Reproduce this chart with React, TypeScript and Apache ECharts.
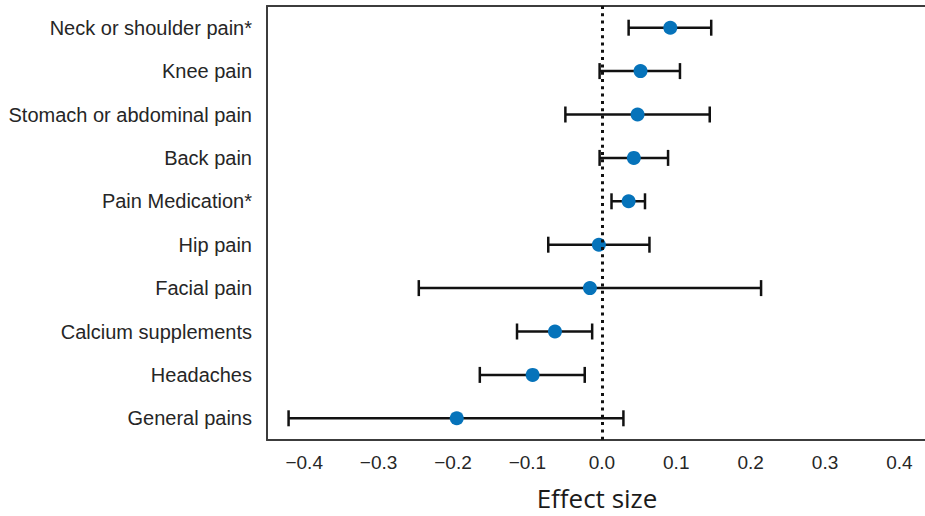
import React, { useEffect, useRef } from "react";
import * as echarts from "echarts";

// Outcome labels, top to bottom
const categories = [
  "Neck or shoulder pain*",
  "Knee pain",
  "Stomach or abdominal pain",
  "Back pain",
  "Pain Medication*",
  "Hip pain",
  "Facial pain",
  "Calcium supplements",
  "Headaches",
  "General pains",
];

// Point estimates and confidence bounds
const estimates = [0.092, 0.052, 0.048, 0.043, 0.036, -0.004, -0.016, -0.063, -0.093, -0.195];
const lowerBounds = [0.036, -0.003, -0.049, -0.003, 0.013, -0.072, -0.246, -0.114, -0.164, -0.421];
const upperBounds = [0.147, 0.105, 0.145, 0.089, 0.058, 0.064, 0.214, -0.013, -0.023, 0.029];

const tickValues = [-0.4, -0.3, -0.2, -0.1, 0, 0.1, 0.2, 0.3, 0.4];

const X_MIN = -0.45;
const X_MAX = 0.437;

const fmt = (v: number) => {
  const s = (Math.round(v * 10) / 10).toFixed(1);
  return s.replace("-", "\u2212");
};

export default function App() {
  const ref = useRef<HTMLDivElement>(null);

  useEffect(() => {
    if (!ref.current) return;
    const chart = echarts.init(ref.current, null, { renderer: "svg" });

    const errorData = categories.map((_, i) => [i, lowerBounds[i], upperBounds[i]]);
    const pointData = categories.map((_, i) => [estimates[i], i]);

    const frameLine = { show: true, lineStyle: { color: "#3c3c3c", width: 2 } };

    chart.setOption({
      animation: false,
      backgroundColor: "#ffffff",
      grid: {
        left: 267,
        right: -2,
        top: 6,
        bottom: 76,
        containLabel: false,
        outerBoundsMode: "none",
      },
      xAxis: [
        {
          type: "value",
          min: X_MIN,
          max: X_MAX,
          position: "bottom",
          axisLine: { ...frameLine, onZero: false },
          axisTick: { show: false },
          splitLine: { show: false },
          axisLabel: {
            customValues: tickValues,
            formatter: (v: number) => fmt(v),
            color: "#262626",
            fontSize: 19,
            fontFamily: "'Liberation Sans', Arial, sans-serif",
            margin: 13,
          },
          name: "Effect size",
          nameLocation: "middle",
          nameGap: 45,
          nameTextStyle: {
            color: "#1a1a1a",
            fontSize: 26,
            lineHeight: 26,
            fontFamily: "'Open Sans', 'Noto Sans', sans-serif",
          },
        },
        {
          type: "value",
          min: X_MIN,
          max: X_MAX,
          position: "top",
          axisLine: { ...frameLine, onZero: false },
          axisTick: { show: false },
          axisLabel: { show: false },
          splitLine: { show: false },
        },
      ],
      yAxis: {
        type: "category",
        data: categories,
        inverse: true,
        boundaryGap: true,
        axisLine: { ...frameLine, onZero: false },
        axisTick: { show: false },
        splitLine: { show: false },
        axisLabel: {
          color: "#262626",
          fontSize: 20,
          fontFamily: "'Liberation Sans', Arial, sans-serif",
          margin: 15,
        },
      },
      series: [
        {
          // dotted reference line at zero effect
          type: "line",
          data: [],
          z: 1,
          markLine: {
            silent: true,
            symbol: "none",
            label: { show: false },
            lineStyle: { color: "#111", width: 3, type: [3, 4.3], cap: "butt" },
            data: [{ xAxis: 0 }],
          },
        },
        {
          // confidence interval whiskers with caps
          type: "custom",
          z: 2,
          data: errorData,
          encode: { x: [1, 2], y: 0 },
          renderItem: (params: any, api: any) => {
            const cat = api.value(0);
            const lo = api.coord([api.value(1), cat]);
            const hi = api.coord([api.value(2), cat]);
            const cap = 8;
            const style = { stroke: "#111", lineWidth: 2.5 };
            return {
              type: "group",
              children: [
                { type: "line", shape: { x1: lo[0], y1: lo[1], x2: hi[0], y2: hi[1] }, style },
                { type: "line", shape: { x1: lo[0], y1: lo[1] - cap, x2: lo[0], y2: lo[1] + cap }, style },
                { type: "line", shape: { x1: hi[0], y1: hi[1] - cap, x2: hi[0], y2: hi[1] + cap }, style },
              ],
            };
          },
        },
        {
          type: "scatter",
          z: 3,
          data: pointData,
          symbol: "circle",
          symbolSize: 14,
          itemStyle: { color: "#0673ba", opacity: 1 },
        },
      ],
    });

    return () => chart.dispose();
  }, []);

  return (
    <div
      ref={ref}
      style={{ position: "fixed", left: 0, top: 0, width: 925, height: 516, background: "#fff" }}
    />
  );
}
